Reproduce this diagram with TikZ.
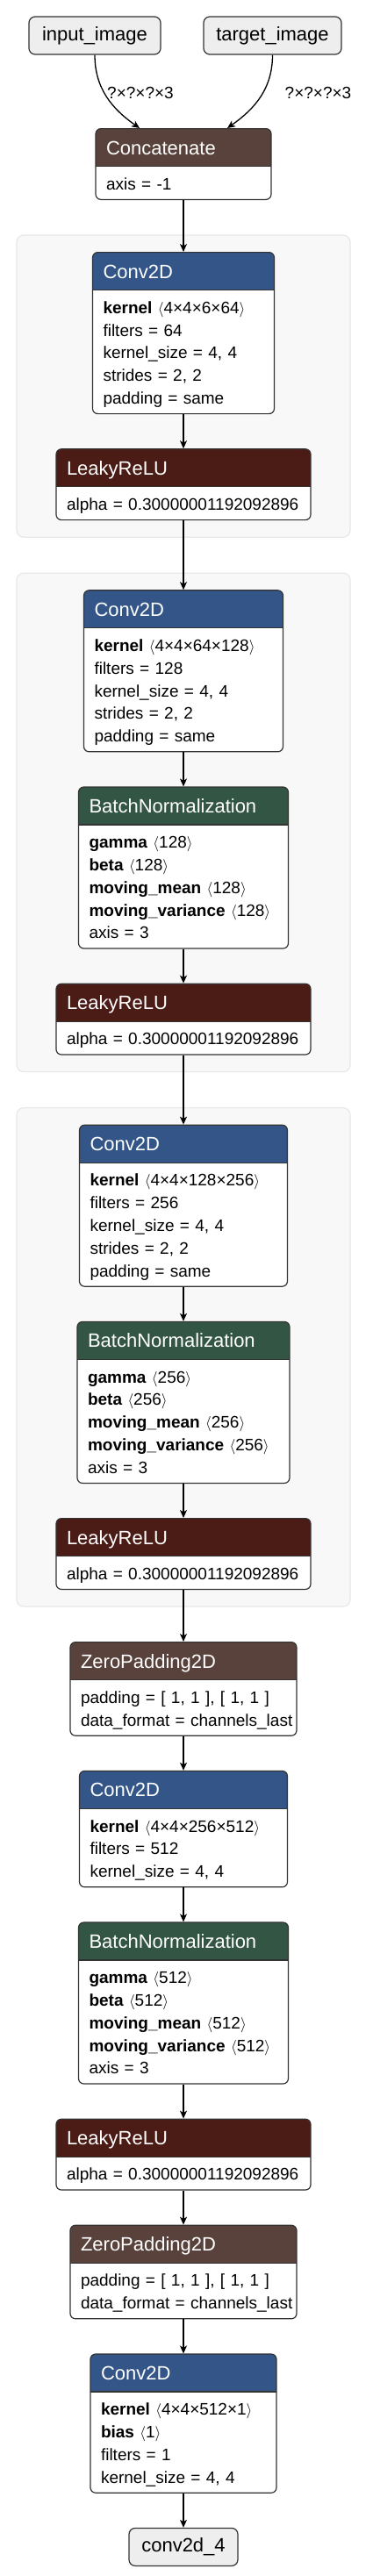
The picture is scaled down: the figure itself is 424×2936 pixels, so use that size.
\documentclass[tikz,border=0pt]{standalone}
\usepackage{fontspec}
\setmainfont{Liberation Sans}
\usetikzlibrary{arrows.meta,positioning,calc,backgrounds}

\definecolor{convc}{HTML}{335588}
\definecolor{normc}{HTML}{335544}
\definecolor{actc}{HTML}{4B1B16}
\definecolor{tensc}{HTML}{59423B}
\definecolor{lborder}{HTML}{333333}
\definecolor{iofill}{HTML}{EEEEEE}
\definecolor{grpfill}{HTML}{F8F8F8}
\definecolor{grpline}{HTML}{E8E8E8}

\newcommand{\headfont}{\fontsize{22}{25.8}\selectfont}
\newcommand{\bodyfont}{\fontsize{19}{25.8}\selectfont}
\newcommand{\lhead}[1]{\rule[-18.6pt]{0pt}{42pt}\textcolor{white}{\headfont #1}}
\newcommand{\lat}[1]{\mbox{\rule[-5.2pt]{0pt}{25.8pt}#1}}
\newcommand{\lwt}[2]{\lat{\textbf{#1}\ $\langle$#2$\rangle$}}

\tikzset{
	layer/.style 2 args={draw=lborder, line width=1.2pt, rounded corners=6pt, fill=white,
		text width={(#2-24)*1pt}, inner xsep=12pt, inner ysep=6pt, align=left, font=\bodyfont,
		path picture={
			\fill[#1, sharp corners] (path picture bounding box.north west) rectangle ([yshift=-43pt]path picture bounding box.north east);
			\draw[lborder, line width=1.2pt, sharp corners] ([yshift=-43pt]path picture bounding box.north west) -- ([yshift=-43pt]path picture bounding box.north east);
		}},
	conv/.style={layer={convc}{#1}},
	norm/.style={layer={normc}{#1}},
	act/.style={layer={actc}{#1}},
	tens/.style={layer={tensc}{#1}},
	io/.style={draw=lborder, line width=1.2pt, fill=iofill, rounded corners=7pt,
		minimum height=43pt, minimum width=#1, inner xsep=0pt, font=\headfont},
	grp/.style={draw=grpline, line width=1.2pt, fill=grpfill, rounded corners=8pt},
	flow/.style={line width=1.3pt, -{Stealth[length=9pt,width=8pt,inset=2.5pt]}},
	elabel/.style={font=\bodyfont, inner sep=0pt},
}

\begin{document}
\begin{tikzpicture}[x=1pt,y=1pt]
	\useasboundingbox (0,0) rectangle (424,-2936);

	\node[io=150pt] (in1) at (108,-40.5) {input\_image};
	\node[io=157pt] (in2) at (310.5,-40.5) {target\_image};

	\node[tens=200, anchor=north] (concat) at (209,-146)
	{\lhead{Concatenate}\\ \lat{axis = -1}};

	\node[conv=207, below=59pt of concat] (conv1)
	{\lhead{Conv2D}\\ \lwt{kernel}{4×4×6×64}\\ \lat{filters = 64}\\
		\lat{kernel\_size = 4, 4}\\ \lat{strides = 2, 2}\\ \lat{padding = same}};
	\node[act=290, below=39pt of conv1] (lrelu1)
	{\lhead{LeakyReLU}\\ \lat{alpha = 0.30000001192092896}};

	\node[conv=227, below=79pt of lrelu1] (conv2)
	{\lhead{Conv2D}\\ \lwt{kernel}{4×4×64×128}\\ \lat{filters = 128}\\
		\lat{kernel\_size = 4, 4}\\ \lat{strides = 2, 2}\\ \lat{padding = same}};
	\node[norm=239, below=39pt of conv2] (bn2)
	{\lhead{BatchNormalization}\\ \lwt{gamma}{128}\\ \lwt{beta}{128}\\
		\lwt{moving\_mean}{128}\\ \lwt{moving\_variance}{128}\\ \lat{axis = 3}};
	\node[act=290, below=39pt of bn2] (lrelu2)
	{\lhead{LeakyReLU}\\ \lat{alpha = 0.30000001192092896}};

	\node[conv=237, below=79pt of lrelu2] (conv3)
	{\lhead{Conv2D}\\ \lwt{kernel}{4×4×128×256}\\ \lat{filters = 256}\\
		\lat{kernel\_size = 4, 4}\\ \lat{strides = 2, 2}\\ \lat{padding = same}};
	\node[norm=242, below=39pt of conv3] (bn3)
	{\lhead{BatchNormalization}\\ \lwt{gamma}{256}\\ \lwt{beta}{256}\\
		\lwt{moving\_mean}{256}\\ \lwt{moving\_variance}{256}\\ \lat{axis = 3}};
	\node[act=290, below=39pt of bn3] (lrelu3)
	{\lhead{LeakyReLU}\\ \lat{alpha = 0.30000001192092896}};

	\node[tens=258, below=59pt of lrelu3] (pad4)
	{\lhead{ZeroPadding2D}\\ \lat{padding = [ 1, 1 ], [ 1, 1 ]}\\
		\lat{data\_format = channels\_last}};
	\node[conv=237, below=39pt of pad4] (conv4)
	{\lhead{Conv2D}\\ \lwt{kernel}{4×4×256×512}\\ \lat{filters = 512}\\
		\lat{kernel\_size = 4, 4}};
	\node[norm=239, below=39pt of conv4] (bn4)
	{\lhead{BatchNormalization}\\ \lwt{gamma}{512}\\ \lwt{beta}{512}\\
		\lwt{moving\_mean}{512}\\ \lwt{moving\_variance}{512}\\ \lat{axis = 3}};
	\node[act=290, below=39pt of bn4] (lrelu4)
	{\lhead{LeakyReLU}\\ \lat{alpha = 0.30000001192092896}};
	\node[tens=258, below=39pt of lrelu4] (pad5)
	{\lhead{ZeroPadding2D}\\ \lat{padding = [ 1, 1 ], [ 1, 1 ]}\\
		\lat{data\_format = channels\_last}};
	\node[conv=212, below=39pt of pad5] (conv5)
	{\lhead{Conv2D}\\ \lwt{kernel}{4×4×512×1}\\ \lwt{bias}{1}\\
		\lat{filters = 1}\\ \lat{kernel\_size = 4, 4}};

	\node[io=124pt, below=39pt of conv5] (out) {conv2d\_4};

	\begin{scope}[on background layer]
		\fill[white] (0,0) rectangle (424,-2936);
		\foreach \a/\b in {conv1/lrelu1,conv2/lrelu2,conv3/lrelu3}
		{
			\draw[grp] ($(19,0 |- \a.north)+(0,19)$) rectangle ($(399,0 |- \b.south)+(0,-19)$);
		}
	\end{scope}

	\draw[flow] (in1.south) to[out=-90,in=145] ([xshift=-50pt]concat.north);
	\draw[flow] (in2.south) to[out=-90,in=35] ([xshift=50pt]concat.north);
	\node[elabel] (lab1) at (160,-106) {?×?×?×3};
	\node[elabel] (lab2) at (362.5,-106) {?×?×?×3};

	\foreach \a/\b in {concat/conv1,conv1/lrelu1,lrelu1/conv2,conv2/bn2,bn2/lrelu2,
		lrelu2/conv3,conv3/bn3,bn3/lrelu3,lrelu3/pad4,pad4/conv4,conv4/bn4,
		bn4/lrelu4,lrelu4/pad5,pad5/conv5,conv5/out}
	{
		\draw[flow] (\a.south) -- (\b.north);
	}
\end{tikzpicture}
\end{document}
